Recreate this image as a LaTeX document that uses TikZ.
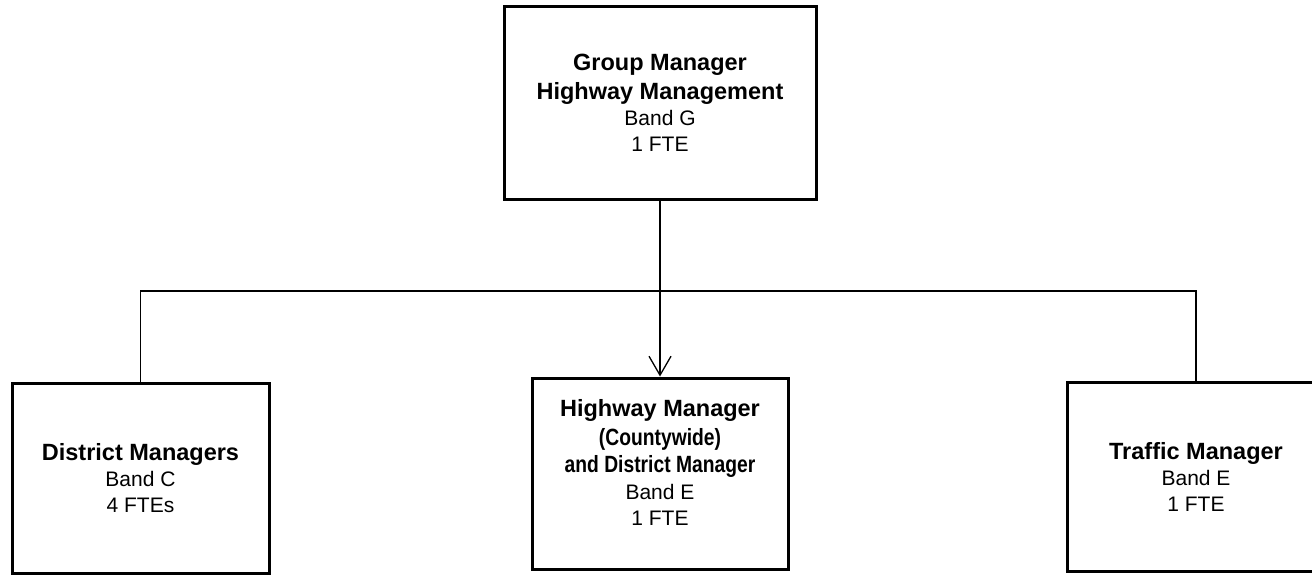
\documentclass[tikz,border=0pt]{standalone}
\usepackage{fontspec}
\usepackage{graphicx}
\setmainfont{Liberation Sans}
\usetikzlibrary{arrows.meta}
\newcommand\hd[1]{{\fontsize{23.5}{26}\selectfont\bfseries #1}}
\newcommand\hdn[1]{{\fontsize{23.5}{26}\selectfont\bfseries\scalebox{0.82}[1]{#1}}}
\tikzset{
  postbox/.style={draw=black, line width=3pt, fill=white, inner sep=0pt,
    align=center, font=\fontsize{21}{26}\selectfont},
  link/.style={draw=black, line width=1.3pt},
  linkarrow/.style={link, -{Straight Barb[length=19pt,width=22pt,line width=1.3pt]}}
}
\begin{document}
\begin{tikzpicture}[x=1pt,y=-1pt]
\useasboundingbox (0,0) rectangle (1312,574);
\clip (0,0) rectangle (1312,574);
\node[postbox, minimum width=312pt, minimum height=193pt] (gm) at (660,103)
  {\hd{Group Manager}\\[3pt]\hd{Highway Management}\\Band G\\1 FTE};
\node[postbox, minimum width=257pt, minimum height=190pt] (dm) at (140.5,478)
  {\hd{District Managers}\\Band C\\4 FTEs};
\node[postbox, minimum width=256pt, minimum height=191pt, text depth=22pt] (hm) at (660,473.5)
  {\hd{Highway Manager}\\[3pt]\hdn{(Countywide)}\\[1pt]\hdn{and District Manager}\\[1pt]Band E\\1 FTE};
\node[postbox, minimum width=258pt, minimum height=189pt] (tm) at (1196,476.5)
  {\hd{Traffic Manager}\\Band E\\1 FTE};
\coordinate (bus) at (660,291);
\draw[link] (dm.north) -- (dm.north |- bus) -- (tm.north |- bus) -- (tm.north);
\draw[linkarrow] (gm.south) -- (hm.north);
\end{tikzpicture}
\end{document}
